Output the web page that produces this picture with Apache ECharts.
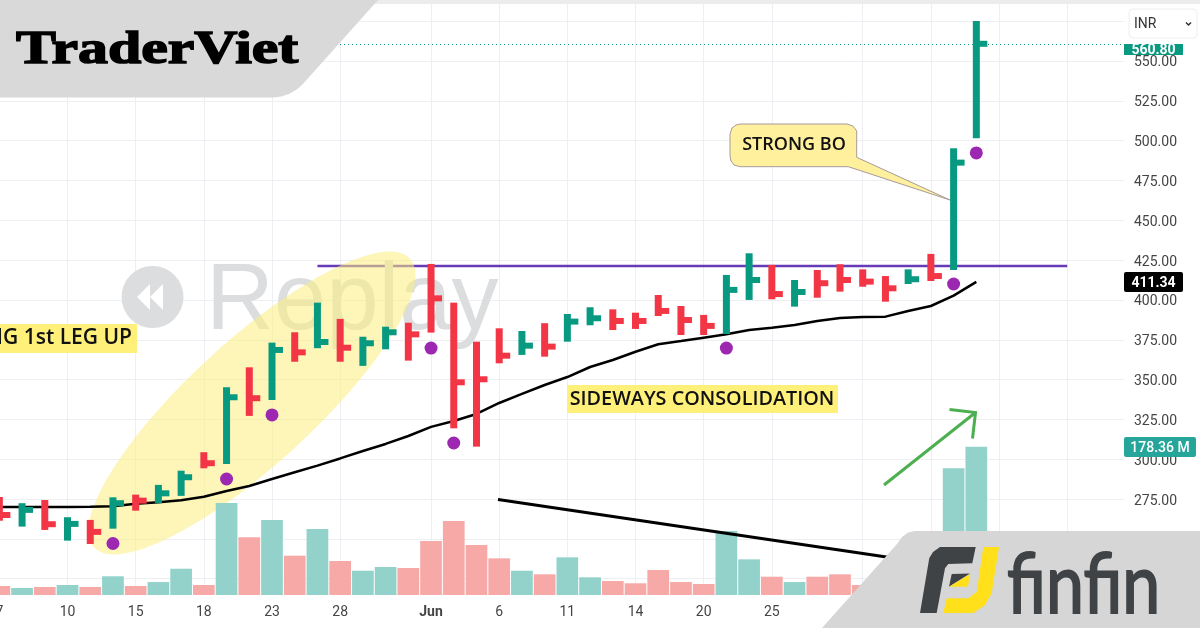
<!DOCTYPE html>
<html>
<head>
<meta charset="utf-8">
<title>Replay chart</title>
<script src="https://cdn.jsdelivr.net/npm/echarts@6/dist/echarts.min.js"></script>
<style>
html, body { margin: 0; padding: 0; background: #fff; overflow: hidden; }
#main { width: 1200px; height: 628px; }
</style>
</head>
<body>
<div id="main"></div>
<script>
// values
var categories = ['7','','','10','','','15','','','18','','','23','','','28','','','','Jun','','','6','','','11','','','14','','','20','','','25','','','','','','','','','','','','','','',''];
var tickIndex = [0,3,6,9,12,15,19,22,25,28,31,34,38,41,44,47];
var highs = [276.3,272.4,274.4,263.6,261.9,276.1,277.8,283.9,292.8,304.4,345.2,357.7,373.2,379.7,398.3,388.1,376.9,383.2,385.7,422.6,398.3,373.8,382.2,380.5,385.4,391.2,395.4,394.1,392,403.1,396.2,390.6,415.7,429.3,422,412.5,418.8,422.4,419.2,415,419.2,428.9,495.2,575.1];
var lows = [261.4,257.7,255.6,248.9,246.8,256.4,267.7,272.4,277,294.3,297,327.2,337.2,361.2,369.7,361.2,358.6,369,361.9,379.5,319.4,307.9,360.2,365.5,364.4,373.8,384.1,381.1,381.8,389.9,378,378,378.6,400,400.4,395.8,401.4,405.2,408.3,398.9,410,411.9,418.8,501.5];
var closes = [265,268.2,259.2,259.4,254.4,272.4,274,278.6,288.7,297.5,338.9,338.3,368.6,367.1,373.6,370,372.8,379.7,378.4,401,348.3,350.2,365,371.3,370.7,386.4,388.5,386.8,386.8,393.1,387.4,383.7,406.3,412.5,403.7,405,410.5,412.5,411.5,407.3,413,415,486.2,560.8];
var ups = [0,1,0,1,0,1,0,1,1,0,1,0,1,0,1,0,1,1,0,0,0,0,0,1,0,1,1,0,0,0,0,0,1,1,0,1,0,0,0,0,1,0,1,1];
var maValues = [270,270,270,270,270.2,270.5,272,273,274.3,276.5,280.1,283.2,287.6,291.8,296,300.5,305.2,309.6,314.6,320.3,324,328.4,335.3,341,346.6,351.6,357.9,362.3,367.5,372.2,374.2,376.3,378.4,381.1,382.6,384.3,386.8,388.7,389.3,389.5,393.1,396.2,402.7,411.34];
var volumes = [10.8,8.4,9.6,12,9.6,22.5,10.8,15.6,31.6,12,110.6,69.4,90.2,47.3,79.4,40.9,29.2,33.7,32.5,64.9,89,60.1,44.1,29.2,24.9,45.3,21.3,16.8,14.1,30.1,15.6,13.2,77,42.9,22,15.6,22,24.9,12,10.8,9.6,20.4,152.4,178.36];
var dotIndex = [5,10,12,19,20,32,42,43];
var dotPrices = [247.1,287.6,327.8,369.8,310.2,369.8,410,492.3];
var resistance = [[14,421.3],[47,421.3]];
var lastPrice = 560.8;

var UP = '#089981', DOWN = '#F23645';
var UI_FONT = 'Roboto, sans-serif';

var chart = echarts.init(document.getElementById('main'));

function renderBar(params, api) {
    var i = api.value(0);
    var hi = api.coord([i, api.value(1)]);
    var lo = api.coord([i, api.value(2)]);
    var cl = api.coord([i, api.value(3)]);
    var color = ups[i] ? UP : DOWN;
    return {
        type: 'group',
        children: [
            { type: 'rect', shape: { x: hi[0] - 3.5, y: hi[1], width: 7, height: lo[1] - hi[1] }, style: { fill: color } },
            { type: 'rect', shape: { x: hi[0], y: cl[1] - 3, width: 11, height: 6 }, style: { fill: color } }
        ]
    };
}

function tag(x, y, w, h, r, fill, text, weight) {
    return [
        { type: 'rect', z: 20, silent: true, shape: { x: x, y: y, width: w, height: h, r: r }, style: { fill: fill } },
        { type: 'text', z: 20, silent: true, x: x + w / 2, y: y + h / 2 + 1, style: { text: text, fill: '#fff', font: weight + ' 14px ' + UI_FONT, textAlign: 'center', textVerticalAlign: 'middle' } }
    ];
}

var overlays = [
    // replay watermark
    { type: 'circle', z: 1, shape: { cx: 152.5, cy: 297, r: 31 }, style: { fill: '#dcddde' } },
    { type: 'polygon', z: 1, shape: { points: [[137,297],[150,284],[150,310]] }, style: { fill: '#fff' } },
    { type: 'polygon', z: 1, shape: { points: [[150,297],[163,284],[163,310]] }, style: { fill: '#fff' } },
    { type: 'text', z: 1, x: 206, y: 350, style: { text: 'Replay', fill: '#dcddde', font: '94px "Liberation Sans"', textVerticalAlign: 'bottom' } },
    // highlight over the first leg
    { type: 'ellipse', z: 1, x: 252, y: 403, rotation: 0.74, shape: { cx: 0, cy: 0, rx: 214, ry: 62 }, style: { fill: 'rgba(251,238,126,0.55)' } },

    // annotations
    { type: 'rect', z: 5, shape: { x: 0, y: 324, width: 137, height: 29 }, style: { fill: '#fff07a' } },
    { type: 'text', z: 5, x: 132, y: 338, style: { text: 'STRONG 1st LEG UP', fill: '#111', font: '600 21px "Open Sans"', textAlign: 'right', textVerticalAlign: 'middle' } },
    { type: 'rect', z: 5, shape: { x: 567, y: 385, width: 271, height: 28 }, style: { fill: '#fff07a' } },
    { type: 'text', z: 5, x: 702, y: 399, style: { text: 'SIDEWAYS CONSOLIDATION', fill: '#111', font: '600 19.8px "Open Sans"', textAlign: 'center', textVerticalAlign: 'middle' } },
    { type: 'polygon', z: 5, shape: { points: [[740,124],[847,124],[853,126],[856.7,131],[856.7,157.3],[950,200],[848.3,166.7],[740,166.7],[734,165],[731,161],[730,156],[730,134],[732,128],[736,125]] }, style: { fill: '#fff09e', stroke: '#a89a9a', lineWidth: 1 } },
    { type: 'text', z: 5, x: 794, y: 145, style: { text: 'STRONG BO', fill: '#111', font: '600 18px "Open Sans"', textAlign: 'center', textVerticalAlign: 'middle' } },
    { type: 'line', z: 5, shape: { x1: 498, y1: 499.5, x2: 900, y2: 559 }, style: { stroke: '#000', lineWidth: 3 } },
    { type: 'polyline', z: 5, shape: { points: [[884,485],[975.5,412.5]] }, style: { stroke: '#4caf50', lineWidth: 3, fill: null } },
    { type: 'polyline', z: 5, shape: { points: [[949.5,409.5],[975.5,412.5],[972.5,438.5]] }, style: { stroke: '#4caf50', lineWidth: 3, fill: null } },

    // top strip of the screenshot
    { type: 'rect', z: 14, shape: { x: 360, y: 0, width: 840, height: 4 }, style: { fill: '#ececec' } },

    // TraderViet banner
    { type: 'polygon', z: 15, shape: { points: [[0,0],[378,0],[302,85],[296,90],[289,94],[281,96.5],[273,97.5],[0,97.5]] }, style: { fill: '#d9d9d9' } },
    { type: 'text', z: 16, x: 16, y: 74, scaleX: 1.3, style: { text: 'TraderViet', fill: '#000', font: 'bold 46px "Liberation Serif"', textVerticalAlign: 'bottom', stroke: '#000', lineWidth: 1.5 } },

    // finfin banner
    { type: 'polygon', z: 15, shape: { points: [[1200,531],[915,531],[908,532.5],[902,537],[897,544],[822,628],[1200,628]] }, style: { fill: '#d6d6d6' } },
    { type: 'polygon', z: 16, shape: { points: [[920,613],[929.3,558],[933,552],[940,547],[975.7,547],[972.3,563.3],[948.3,564],[945,568.3],[936.7,613]] }, style: { fill: '#404346' } },
    { type: 'polygon', z: 16, shape: { points: [[951.7,574],[970,573.5],[949,586.7]] }, style: { fill: '#404346' } },
    { type: 'polygon', z: 16, shape: { points: [[970,574],[968,586.7],[949,586.7]] }, style: { fill: '#ffe01b' } },
    { type: 'polygon', z: 16, shape: { points: [[983.3,547],[999,547],[991.7,593.3],[985,605],[973.3,613],[943.3,613],[946.7,598.3],[968.3,598.3],[976.7,592]] }, style: { fill: '#ffe01b' } },
    { type: 'text', z: 16, x: 1007, y: 628, scaleX: 0.81, style: { text: 'finfin', fill: '#404346', font: '84px Lato', textVerticalAlign: 'bottom', stroke: '#404346', lineWidth: 2 } }
].concat(
    tag(1124, 44, 59, 11, 0, UP, '560.80', 'bold'),
    [
        { type: 'rect', z: 21, shape: { x: 1124, y: 4, width: 76, height: 40 }, style: { fill: '#fff' } },
        { type: 'rect', z: 22, shape: { x: 1129, y: 9, width: 68, height: 29, r: 4 }, style: { fill: '#fff', stroke: '#eeeeee', lineWidth: 1 } },
        { type: 'text', z: 22, x: 1134, y: 24, style: { text: 'INR', fill: '#333', font: '14px ' + UI_FONT, textVerticalAlign: 'middle' } },
        { type: 'polyline', z: 22, shape: { points: [[1186,22.5],[1188.5,25],[1191,22.5]] }, style: { stroke: '#333', lineWidth: 1.5, fill: null } }
    ],
    tag(1124, 272, 59, 20, 2, '#000', '411.34', 'bold'),
    tag(1124, 437, 72, 20, 2, '#26a69a', '178.36 M', '500')
);

chart.setOption({
    animation: false,
    backgroundColor: '#fff',
    grid: [
        { left: -12, top: 4, width: 1136, height: 591, outerBoundsMode: 'none' },
        { left: -12, top: -18.65, width: 1136, height: 597.35, outerBoundsMode: 'none' }
    ],
    xAxis: [
        {
            type: 'category',
            gridIndex: 0,
            data: categories.map(function(c) {
                return c === 'Jun' ? { value: c, textStyle: { fontWeight: 'bold' } } : c;
            }),
            axisLine: { show: false },
            axisTick: { show: false, alignWithLabel: true },
            axisLabel: {
                color: '#454545',
                fontFamily: UI_FONT,
                fontSize: 14,
                margin: 10,
                hideOverlap: false,
                interval: function(i) { return tickIndex.indexOf(i) >= 0; }
            },
            splitLine: {
                show: true,
                alignWithLabel: true,
                interval: function(i) { return tickIndex.indexOf(i) >= 0; },
                lineStyle: { color: '#eeeff2', width: 1 }
            }
        },
        {
            type: 'category',
            gridIndex: 1,
            data: categories,
            axisLine: { show: false },
            axisTick: { show: false },
            axisLabel: { show: false },
            splitLine: { show: false }
        }
    ],
    yAxis: [
        {
            type: 'value',
            gridIndex: 0,
            min: 0,
            max: 711,
            show: false,
            splitLine: { show: false }
        },
        {
            type: 'value',
            gridIndex: 1,
            position: 'right',
            min: 225,
            max: 600,
            interval: 25,
            axisLine: { show: false },
            axisTick: { show: false },
            axisLabel: {
                margin: 10,
                formatter: function(v) { return '{p|' + v.toFixed(2) + '}'; },
                rich: {
                    p: { color: '#454545', fontFamily: UI_FONT, fontSize: 14, padding: [4, 0, 0, 0] }
                }
            },
            splitLine: { show: true, lineStyle: { color: '#eeeff2', width: 1 } }
        }
    ],
    graphic: { elements: overlays },
    series: [
        {
            name: 'Volume',
            type: 'bar',
            xAxisIndex: 0,
            yAxisIndex: 0,
            z: 2,
            barWidth: 21.7,
            silent: true,
            data: volumes.map(function(v, i) {
                return { value: v, itemStyle: { color: ups[i] ? '#92d2cb' : '#f7a9a7' } };
            })
        },
        {
            name: 'Resistance',
            type: 'line',
            xAxisIndex: 1,
            yAxisIndex: 1,
            z: 0.5,
            silent: true,
            showSymbol: false,
            data: resistance,
            lineStyle: { color: '#673ab7', width: 2.5 }
        },
        {
            name: 'MA',
            type: 'line',
            xAxisIndex: 1,
            yAxisIndex: 1,
            z: 2,
            silent: true,
            showSymbol: false,
            data: maValues,
            lineStyle: { color: '#000', width: 2.5 },
            markLine: {
                silent: true,
                symbol: 'none',
                label: { show: false },
                lineStyle: { color: UP, type: [1, 3], width: 1 },
                data: [{ yAxis: lastPrice }]
            }
        },
        {
            name: 'Price',
            type: 'custom',
            xAxisIndex: 1,
            yAxisIndex: 1,
            z: 3,
            silent: true,
            renderItem: renderBar,
            encode: { x: 0, y: [1, 2, 3] },
            data: highs.map(function(h, i) { return [i, h, lows[i], closes[i]]; })
        },
        {
            name: 'Signals',
            type: 'scatter',
            xAxisIndex: 1,
            yAxisIndex: 1,
            z: 4,
            silent: true,
            symbolSize: 13,
            itemStyle: { color: '#9c27b0', opacity: 1 },
            data: dotIndex.map(function(x, i) { return [x, dotPrices[i]]; })
        }
    ]
});
</script>
</body>
</html>
